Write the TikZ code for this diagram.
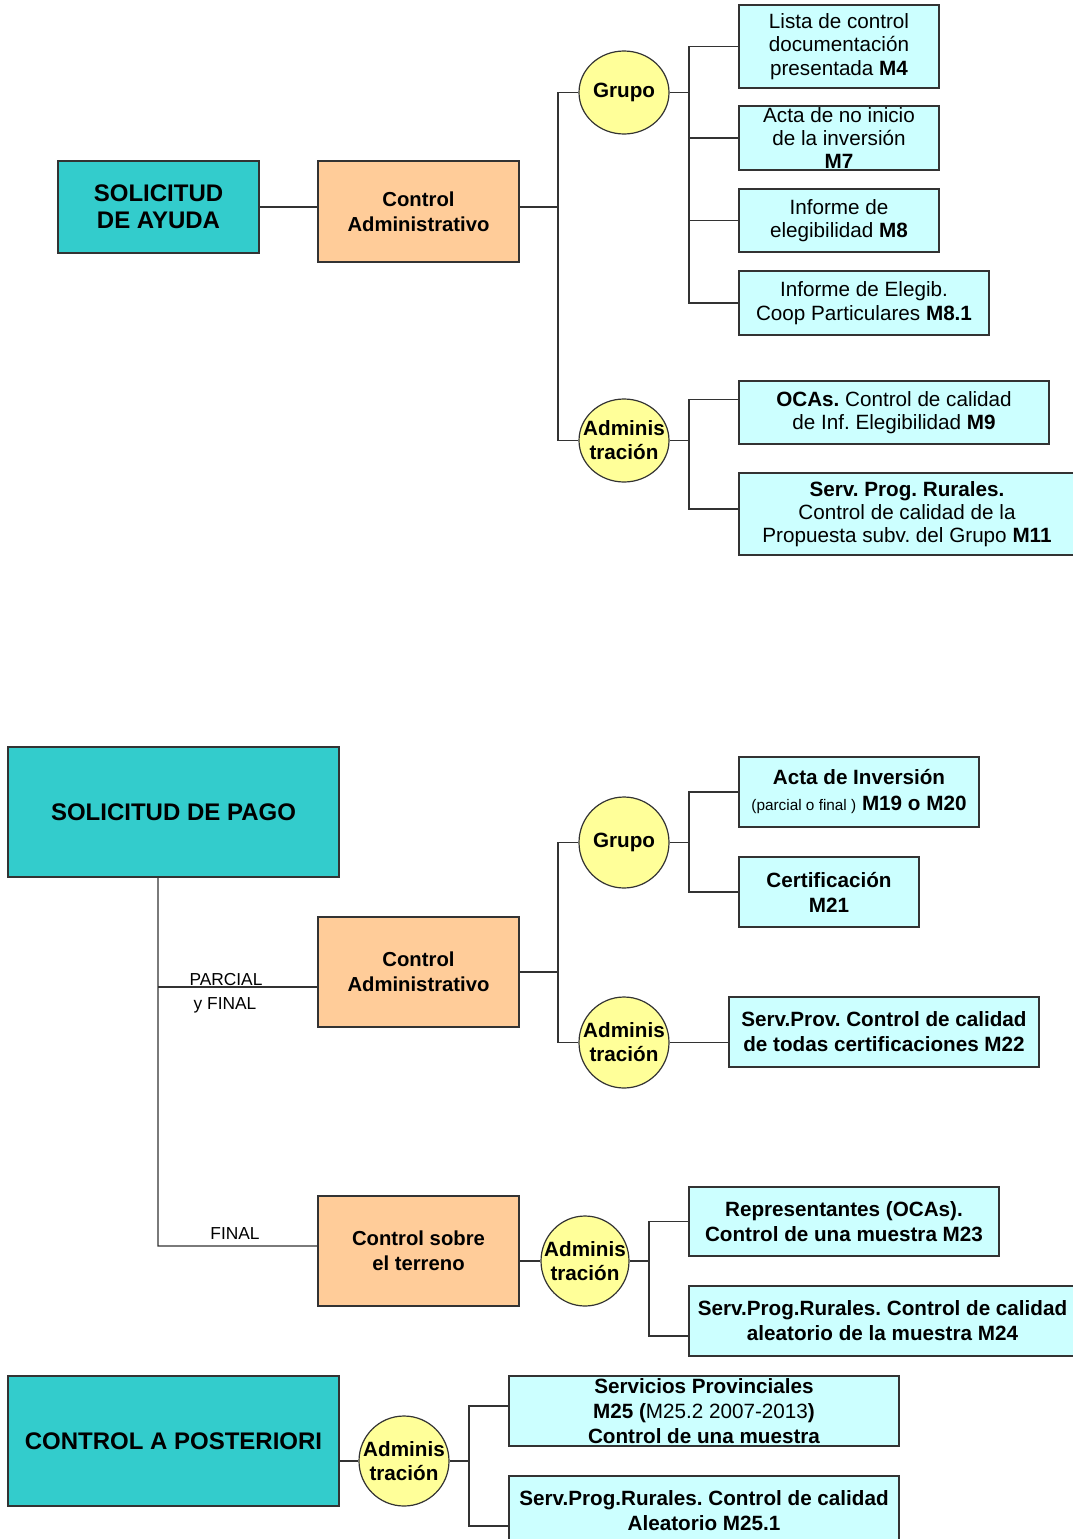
\documentclass[tikz,border=0pt]{standalone}
\usepackage{fontspec}
\setmainfont{Liberation Sans}
\usetikzlibrary{shapes.geometric, positioning, calc}
\definecolor{tealbox}{HTML}{33CCCC}
\definecolor{orangebox}{HTML}{FFCC99}
\definecolor{yellowbox}{HTML}{FFFF99}
\definecolor{cyanbox}{HTML}{CCFFFF}
\definecolor{darkline}{RGB}{51, 51, 51}
\newcommand{\admintxt}{\makebox[0pt]{Adminis}\\\makebox[0pt]{tración}}
\frenchspacing

\begin{document}
\begin{tikzpicture}[
    x=0.75pt, y=-0.75pt,
    dims/.style 2 args={minimum width=#1*0.75pt, minimum height=#2*0.75pt},
    solicitud/.style={rectangle, inner sep=0pt, align=center, draw=darkline, line width=0.9pt, fill=tealbox, font=\bfseries\fontsize{18}{20.5}\selectfont},
    control/.style={rectangle, inner sep=0pt, align=center, draw=darkline, line width=0.9pt, fill=orangebox, font=\bfseries\fontsize{15.2}{18.5}\selectfont},
    ente/.style={ellipse, inner sep=0pt, align=center, draw=darkline, line width=0.9pt, fill=yellowbox, font=\bfseries\fontsize{15.5}{18}\selectfont},
    tarea/.style={rectangle, inner sep=0pt, align=center, draw=darkline, line width=0.9pt, fill=cyanbox, font=\fontsize{15.5}{17.5}\selectfont},
    tareab/.style={tarea, font=\bfseries\fontsize{15.5}{18.8}\selectfont},
    etiqueta/.style={font=\fontsize{13}{15}\selectfont, inner sep=0pt},
    linea/.style={draw=darkline, line width=0.9pt}
]
\useasboundingbox (0,0) rectangle (1072,1539);

% Solicitud de ayuda
\node (ayuda) [solicitud, dims={201}{92}] at (158.5,207) {SOLICITUD\\DE AYUDA};
\node (ctrlA) [control, dims={201}{101}] at (418.5,211.5) {Control\\Administrativo};
\node (grupoA) [ente, dims={90}{83}] at (624,92.5) {Grupo};
\node (adminA) [ente, dims={90}{83}] at (624,440.5) {\admintxt};
\node (m4) [tarea, dims={200}{83}] at (839,46.5) {Lista de control\\documentación\\presentada \textbf{M4}};
\node (m7) [tarea, dims={200}{64}] at (839,138) {Acta de no inicio\\de la inversión\\\textbf{M7}};
\node (m8) [tarea, dims={200}{63}] at (839,220.5) {Informe de\\elegibilidad \textbf{M8}};
\node (m81) [tarea, dims={250}{64}] at (864,303) {Informe de Elegib.\\Coop Particulares \textbf{M8.1}};
\node (m9) [tarea, dims={310}{63}] at (894,412.5) {\textbf{OCAs.} Control de calidad\\de Inf. Elegibilidad \textbf{M9}};
\node (m11) [tarea, dims={336}{82}] at (907,514) {\textbf{Serv. Prog. Rurales.}\\Control de calidad de la\\Propuesta subv. del Grupo \textbf{M11}};

% Solicitud de pago
\node (pago) [solicitud, dims={331}{130}] at (173.5,812) {SOLICITUD DE PAGO};
\node (ctrlB) [control, dims={201}{110}] at (418.5,972) {Control\\Administrativo};
\node (terreno) [control, dims={201}{110}] at (418.5,1251) {Control sobre\\el terreno};
\node (grupoB) [ente, dims={90}{91}] at (624,842.5) {Grupo};
\node (adminB) [ente, dims={90}{91}] at (624,1042.5) {\admintxt};
\node (adminC) [ente, dims={88}{90}] at (585,1261) {\admintxt};
\node (m19) [tarea, dims={240}{70}] at (859,792) {\textbf{Acta de Inversión}\\[2pt]{\fontsize{11.5}{13}\selectfont(parcial o final )} \textbf{M19 o M20}};
\node (m21) [tareab, dims={180}{70}] at (829,892) {Certificación\\M21};
\node (m22) [tareab, dims={310}{70}] at (884,1032) {Serv.Prov. Control de calidad\\de todas certificaciones M22};
\node (m23) [tareab, dims={310}{69}] at (844,1221.5) {Representantes (OCAs).\\Control de una muestra M23};
\node (m24) [tareab, dims={387}{70}] at (882.5,1321) {Serv.Prog.Rurales. Control de calidad\\aleatorio de la muestra M24};

\node (lblParcial) [etiqueta] at (226,980) {PARCIAL};
\node (lblYFinal) [etiqueta] at (225,1005) {y FINAL};
\node (lblFinal) [etiqueta] at (235,1234) {FINAL};

% Control a posteriori
\node (posteriori) [solicitud, dims={331}{130}] at (173.5,1441) {CONTROL A POSTERIORI};
\node (adminD) [ente, dims={90}{90}] at (404,1461) {\admintxt};
\node (m25) [tareab, dims={390}{70}] at (704,1411) {Servicios Provinciales\\M25 (\textmd{M25.2 2007-2013})\\Control de una muestra};
\node (m251) [tareab, dims={390}{70}] at (704,1511) {Serv.Prog.Rurales. Control de calidad\\Aleatorio M25.1};

% Junctions
\coordinate (tA) at (558,207);
\coordinate (jA) at (689,92.5);
\coordinate (kA) at (689,440.5);
\coordinate (tB1) at (158,987);
\coordinate (tB2) at (158,1246);
\coordinate (tC) at (558,972);
\coordinate (jB) at (689,842.5);
\coordinate (jC) at (649,1261);
\coordinate (jD) at (469,1461);

% Lines
\draw [linea] (ayuda.east) -- (ayuda.east -| ctrlA.west);
\draw [linea] (ayuda.east -| ctrlA.east) -- (tA);
\draw [linea] (grupoA.west) -| (tA) |- (adminA.west);
\foreach \t in {m4, m7, m8, m81} {
    \draw [linea] (grupoA.east) -- (jA) |- (\t.west);
}
\draw [linea] (adminA.east) -- (kA) |- ([yshift=9.75pt]m9.west);
\draw [linea] (kA) |- ([yshift=3.75pt]m11.west);

\draw [linea] ([xshift=-11.6pt]pago.south) -- (tB2) -- (tB2 -| terreno.west);
\draw [linea] (tB1) -- (tB1 -| ctrlB.west);
\draw [linea] (ctrlB.east) -- (tC);
\draw [linea] (grupoB.west) -| (tC) |- (adminB.west);
\foreach \t in {m19, m21} {
    \draw [linea] (grupoB.east) -- (jB) |- (\t.west);
}
\draw [linea] (adminB.east) -- (adminB.east -| m22.west);
\draw [linea] (adminC.west -| terreno.east) -- (adminC.west);
\draw [linea] (adminC.east) -- (jC) |- (m23.west);
\draw [linea] (jC) |- ([yshift=-11.25pt]m24.west);

\draw [linea] (adminD.west -| posteriori.east) -- (adminD.west);
\draw [linea] (adminD.east) -- (jD) |- ([yshift=3.75pt]m25.west);
\draw [linea] (jD) |- ([yshift=-11.25pt]m251.west);

\end{tikzpicture}
\end{document}
